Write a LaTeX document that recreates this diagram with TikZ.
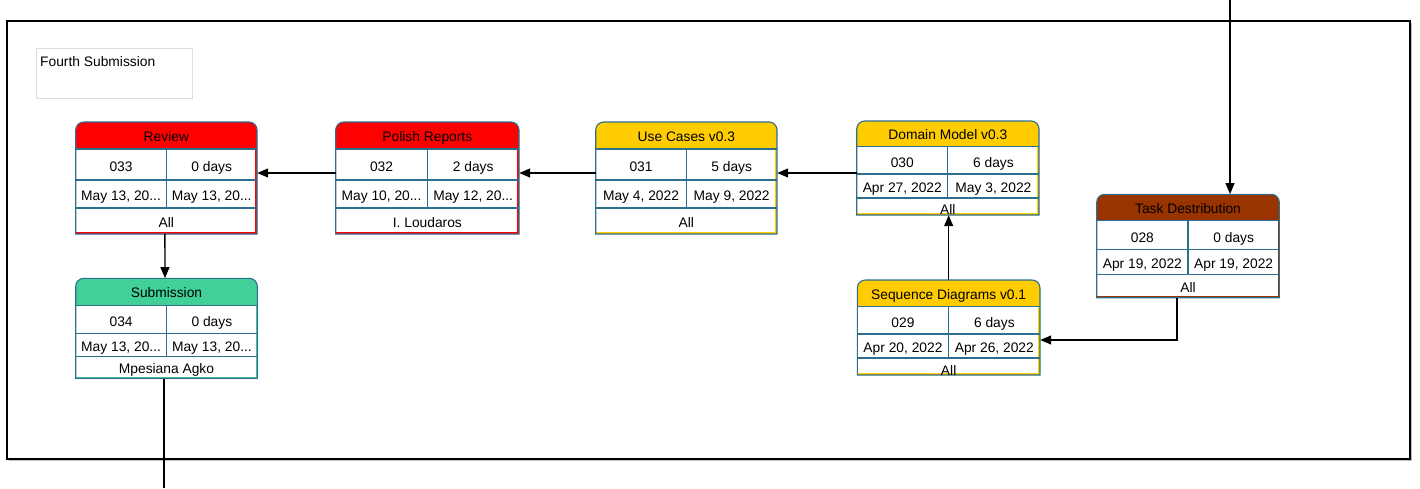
\documentclass[tikz,border=0pt]{standalone}
\usepackage{fontspec}
\setmainfont{Liberation Sans}
\usetikzlibrary{arrows.meta,fit}
\definecolor{bd}{RGB}{46,110,142}
\definecolor{cred}{RGB}{255,0,0}
\definecolor{cyel}{RGB}{255,204,0}
\definecolor{cgrn}{RGB}{64,208,152}
\definecolor{cbrn}{RGB}{153,51,0}
\definecolor{ttl}{RGB}{221,221,221}
\tikzset{
  cell/.style={draw=bd, line width=1.1pt},
  txt/.style={inner sep=0pt, font=\fontsize{13.8}{16}\selectfont, text=black, text height=9.8pt, text depth=0pt},
  arr/.style={-{Triangle[length=11pt,width=9pt]}, line width=1.3pt, black},
  frame/.style={draw=black, line width=1.3pt},
  titlebox/.style={draw=ttl, line width=1pt}
}
\newcommand\taskgeom[9]{%
  \def\Tl{#1}\def\Tt{#2}\def\Tr{#3}\def\Thb{#4}\def\Tra{#5}\def\Trb{#6}\def\Tb{#7}\def\Tn{#9}%
  \pgfmathsetmacro\Ts{(#1+#3)/2}%
  \path[fill=#8] (\Tl,\Tb) [rounded corners=8pt] -- (\Tl,\Tt) -- (\Tr,\Tt) [sharp corners] -- (\Tr,\Tb) -- cycle;
  \fill[white] (\Tl,\Thb) rectangle (\Tr-1.6,\Tb-1.6);
  \draw[cell] (\Tl,\Thb) -- (\Tr,\Thb) (\Tl,\Tra) -- (\Tr,\Tra) (\Tl,\Trb) -- (\Tr,\Trb) (\Ts,\Thb) -- (\Ts,\Trb);
  \draw[cell] (\Tl,\Tb) [rounded corners=8pt] -- (\Tl,\Tt) -- (\Tr,\Tt) [sharp corners] -- (\Tr,\Tb) -- cycle;
  \node[fit={(\Tl,\Tt) (\Tr,\Tb)}, inner sep=0pt] (#9) {};
}
\newcommand\tasktext[7]{%
  \node[txt] (\Tn-title) at (\Ts,{(\Tt+\Thb)/2+0.8}) {#1};
  \node[txt] (\Tn-id) at ({(\Tl+\Ts)/2},{(\Thb+\Tra)/2+2.5}) {#2};
  \node[txt] (\Tn-dur) at ({(\Ts+\Tr)/2},{(\Thb+\Tra)/2+2.5}) {#3};
  \node[txt] (\Tn-start) at ({(\Tl+\Ts)/2},{(\Tra+\Trb)/2+1.5}) {#4};
  \node[txt] (\Tn-end) at ({(\Ts+\Tr)/2},{(\Tra+\Trb)/2+1.5}) {#5};
  \node[txt] (\Tn-res) at (\Ts,{(\Trb+\Tb)/2+#7}) {#6};
}
\begin{document}
\begin{tikzpicture}[x=1pt,y=-1pt]
\useasboundingbox (0,0) rectangle (1420,488);
% frame
\draw[black!25, line width=1pt] (9,460.5) -- (1411.5,460.5) -- (1411.5,23);
\draw[frame] (7,21) rectangle (1410,459);
\node[titlebox, minimum width=156pt, minimum height=50pt, anchor=north west, inner sep=0pt] (title) at (36,48) {};
\node[txt, anchor=west] (titletext) at (40,62) {Fourth Submission};

\taskgeom{75.7}{122}{257}{149}{180}{208}{234}{cred}{rev}
\tasktext{Review}{033}{0 days}{May 13, 20...}{May 13, 20...}{All}{1.3}
\taskgeom{335.7}{122}{519}{149}{180}{208}{234}{cred}{pol}
\tasktext{Polish Reports}{032}{2 days}{May 10, 20...}{May 12, 20...}{I. Loudaros}{1.3}
\taskgeom{595.7}{122}{777}{149}{180}{208}{234}{cyel}{uc}
\tasktext{Use Cases v0.3}{031}{5 days}{May 4, 2022}{May 9, 2022}{All}{1.3}
\taskgeom{856.7}{121}{1039}{146.7}{174}{198}{215}{cyel}{dom}
\tasktext{Domain Model v0.3}{030}{6 days}{Apr 27, 2022}{May 3, 2022}{All}{3.5}
\taskgeom{857.3}{280}{1040}{306.7}{334}{358}{375}{cyel}{seq}
\tasktext{Sequence Diagrams v0.1}{029}{6 days}{Apr 20, 2022}{Apr 26, 2022}{All}{4}
\taskgeom{1096.7}{194.3}{1279.3}{220.7}{249.3}{274.3}{297.7}{cbrn}{task}
\tasktext{Task Destribution}{028}{0 days}{Apr 19, 2022}{Apr 19, 2022}{All}{1.3}
\taskgeom{75.7}{278.3}{257.3}{305.7}{333.3}{356.7}{378.3}{cgrn}{sub}
\tasktext{Submission}{034}{0 days}{May 13, 20...}{May 13, 20...}{Mpesiana Agko}{1}

% connectors
\coordinate (inc) at (1230,0);
\draw[arr] (inc) -- (inc |- task.north);
\draw[arr] ([yshift=5pt]pol.west) -- ([yshift=5pt]rev.east);
\draw[arr] ([yshift=5pt]uc.west) -- ([yshift=5pt]pol.east);
\coordinate (ucin) at ([yshift=5pt]uc.east);
\draw[arr] (dom.west |- ucin) -- (ucin);
\draw[arr] (seq.north) -- (seq.north |- dom.south);
\coordinate (tkout) at ([xshift=-11pt]task.south);
\coordinate (sqin) at ([yshift=-12.5pt]seq.east);
\draw[arr] (tkout) |- (sqin);
\draw[arr] ([xshift=-1.5pt]rev.south) -- ([xshift=-1.5pt]sub.north);
\coordinate (outc) at (164,488);
\draw[line width=1.4pt] ([xshift=-2.5pt]sub.south) -- (outc);
\end{tikzpicture}
\end{document}
